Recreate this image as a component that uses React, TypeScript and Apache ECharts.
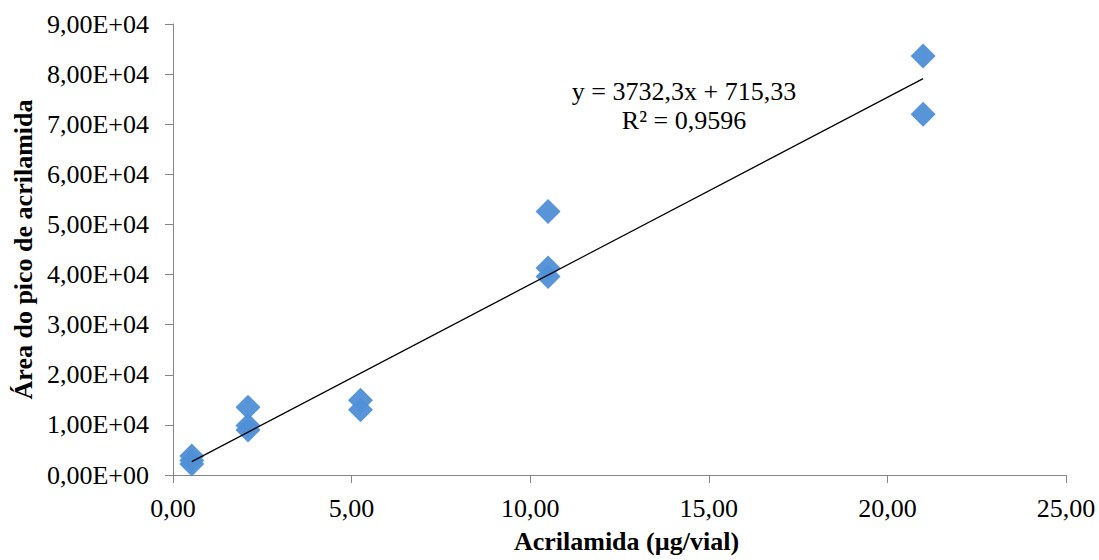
import React, { useEffect, useRef } from "react";
import * as echarts from "echarts";

const xConc: number[] = [0.525, 0.525, 0.525, 2.1, 2.1, 2.1, 5.25, 5.25, 10.5, 10.5, 10.5, 21, 21];
const yArea: number[] = [3800, 2900, 2200, 13500, 9900, 9000, 14900, 13000, 52600, 41300, 39600, 83600, 72000];
const slope = 3732.3;
const intercept = 715.33;
const trendX: number[] = [0.525, 21];
const equationLines: string[] = ["y = 3732,3x + 715,33", "R² = 0,9596"];

const fmtY = (v: number) => (v === 0 ? "0,00E+00" : (v / 10000).toFixed(2).replace(".", ",") + "E+04");
const fmtX = (v: number) => v.toFixed(2).replace(".", ",");

export default function App() {
  const ref = useRef<HTMLDivElement>(null);
  useEffect(() => {
    if (!ref.current) return;
    const chart = echarts.init(ref.current, undefined, { renderer: "svg" });
    const font = "Liberation Serif";
    const axisCommon = {
      axisLine: { show: true, lineStyle: { color: "#868686", width: 1 } },
      axisTick: { show: true, length: 8, lineStyle: { color: "#868686" } },
      splitLine: { show: false },
    };
    chart.setOption({
      animation: false,
      backgroundColor: "#ffffff",
      grid: { left: 173, right: 33, top: 24, bottom: 85 },
      xAxis: {
        type: "value",
        min: 0,
        max: 25,
        interval: 5,
        ...axisCommon,
        axisLabel: { formatter: fmtX, color: "#000", fontFamily: font, fontSize: 26, margin: 20 },
        name: "Acrilamida (µg/vial)",
        nameLocation: "middle",
        nameGap: 53,
        nameTextStyle: { color: "#000", fontFamily: font, fontSize: 26, fontWeight: "bold", padding: [0, 0, 0, 14] },
      },
      yAxis: {
        type: "value",
        min: 0,
        max: 90000,
        interval: 10000,
        ...axisCommon,
        axisLabel: { formatter: fmtY, color: "#000", fontFamily: font, fontSize: 26, margin: 24 },
        name: "Área do pico de acrilamida",
        nameLocation: "middle",
        nameGap: 130,
        nameRotate: 90,
        nameTextStyle: { color: "#000", fontFamily: font, fontSize: 26, fontWeight: "bold" },
      },
      series: [
        {
          type: "scatter",
          data: xConc.map((x, i) => [x, yArea[i]]),
          symbol: "diamond",
          symbolSize: 25,
          itemStyle: { color: "#4f8fd6", opacity: 0.95 },
          z: 2,
        },
        {
          type: "line",
          data: trendX.map((x) => [x, slope * x + intercept]),
          showSymbol: false,
          symbol: "none",
          lineStyle: { color: "#000", width: 1.2 },
          z: 3,
        },
      ],
      graphic: [
        {
          type: "text",
          x: 684,
          y: 77,
          style: {
            text: equationLines.join("\n"),
            fontFamily: font,
            fontSize: 26,
            fill: "#000",
            align: "center",
            verticalAlign: "top",
            lineHeight: 29,
          },
        },
      ],
    });
    return () => chart.dispose();
  }, []);
  return (
    <div
      ref={ref}
      style={{ position: "absolute", left: 0, top: 0, width: 1099, height: 560 }}
    />
  );
}
